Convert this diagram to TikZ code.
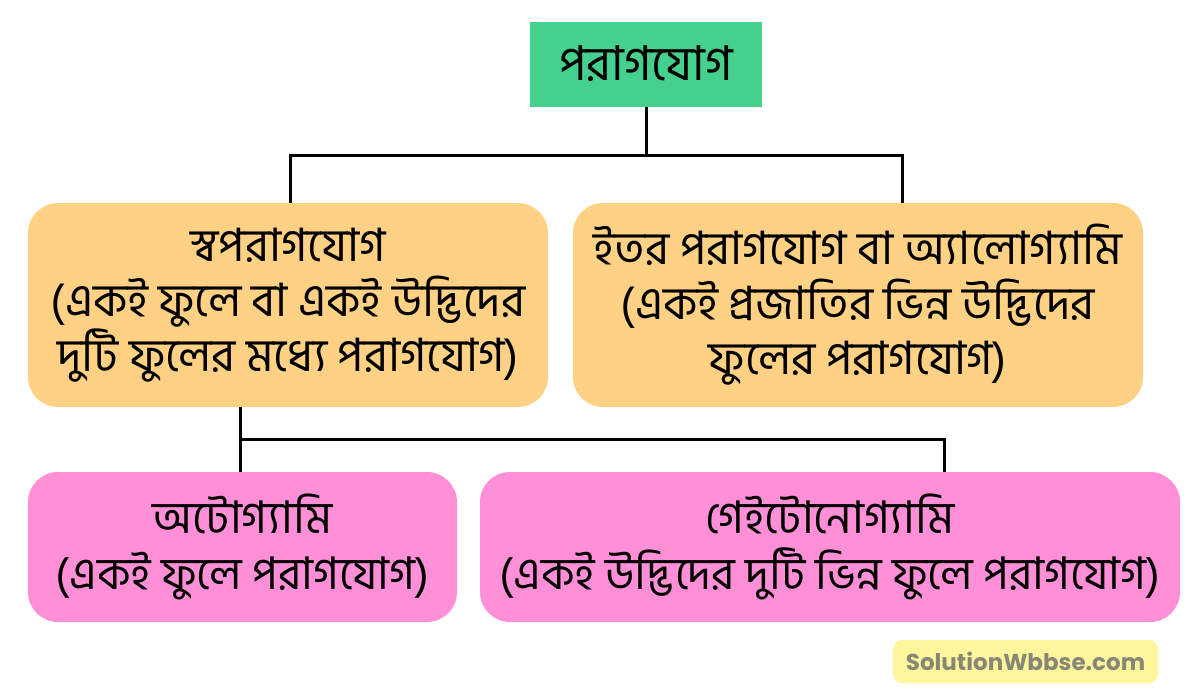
\documentclass[tikz,border=0pt]{standalone}
\usepackage{fontspec}
\usepackage{xcolor}
\usepackage{tikz}
\usetikzlibrary{positioning,calc}
\newfontfamily\bnfont[Script=Bengali]{Hind Siliguri}
\newfontfamily\wmfont{Poppins}
\definecolor{rootcolor}{RGB}{69,208,142}
\definecolor{typecolor}{RGB}{254,209,133}
\definecolor{subcolor}{RGB}{255,143,214}
\definecolor{markcolor}{RGB}{255,245,157}
\definecolor{marktext}{RGB}{135,135,118}

\begin{document}
\begin{tikzpicture}[
  x=1pt, y=-1pt,
  root/.style={rectangle, fill=rootcolor, minimum width=232pt, minimum height=85pt, inner sep=0pt, font=\bnfont\fontsize{48}{55}\selectfont},
  typebox/.style={rectangle, fill=typecolor, rounded corners=30pt, minimum height=204pt, inner sep=0pt, align=center, font=\bnfont\fontsize{46}{55}\selectfont},
  subbox/.style={rectangle, fill=subcolor, rounded corners=30pt, minimum height=150pt, inner sep=0pt, align=center, font=\bnfont\fontsize{45}{56}\selectfont},
  markbox/.style={rectangle, fill=markcolor, rounded corners=9pt, minimum width=265pt, minimum height=43pt, inner sep=0pt, text=marktext, font=\wmfont\bfseries\fontsize{23}{26}\selectfont},
  link/.style={line width=3pt, draw=black}
]
  \useasboundingbox (0,0) rectangle (1200,697);

  % Nodes
  \node[root] (root) at (646,64) {পরাগযোগ};

  \node[typebox, minimum width=520pt] (self) at (288,305)
    {স্বপরাগযোগ\\(একই ফুলে বা একই উদ্ভিদের\\দুটি ফুলের মধ্যে পরাগযোগ)};
  \node[typebox, minimum width=570pt] (cross) at (858,305)
    {ইতর পরাগযোগ বা অ্যালোগ্যামি\\(একই প্রজাতির ভিন্ন উদ্ভিদের\\ফুলের পরাগযোগ)};

  \node[subbox, minimum width=429pt] (auto) at (242.5,547)
    {অটোগ্যামি\\(একই ফুলে পরাগযোগ)};
  \node[subbox, minimum width=700pt] (geito) at (830,547)
    {গেইটোনোগ্যামি\\(একই উদ্ভিদের দুটি ভিন্ন ফুলে পরাগযোগ)};

  \node[markbox] (mark) at (1025.5,661.5) {SolutionWbbse.com};

  % Lines
  \coordinate (bus1) at (646,155);
  \draw[link] (root.south) -- (bus1);
  \draw[link] ([xshift=2pt]self.north) |- (bus1);
  \draw[link] ([xshift=44pt]cross.north) |- (bus1);

  \coordinate (bus2) at (240,439);
  \draw[link] ([xshift=-48pt]self.south) -- ([xshift=-2.5pt]auto.north);
  \draw[link] (bus2) -| ([xshift=114pt]geito.north);

\end{tikzpicture}
\end{document}
